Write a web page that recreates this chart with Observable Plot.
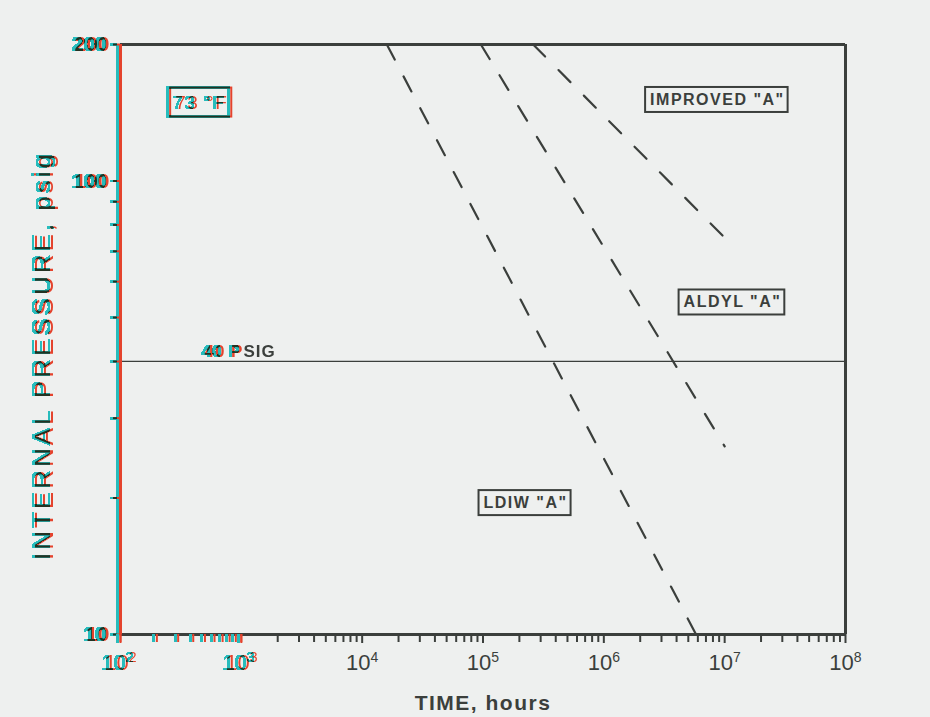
<!DOCTYPE html>
<html><head><meta charset="utf-8">
<script src="https://cdn.jsdelivr.net/npm/d3@7"></script>
<script src="https://cdn.jsdelivr.net/npm/@observablehq/plot@0.6"></script>
<style>
html,body{margin:0;padding:0;background:#eef0ef;}
#chart svg{display:block;}
</style></head><body><div id="chart"></div>
<script>
// ---- data ----
const seriesNames = ['LDIW "A"', 'ALDYL "A"', 'IMPROVED "A"'];
const ldiwTime = [1.6e4, 5.8e6];
const ldiwPressure = [200, 10];
const aldylTime = [9.6e4, 1e7];
const aldylPressure = [200, 26];
const improvedTime = [2.6e5, 1e7];
const improvedPressure = [200, 75];

const labelTime = [2.25e5, 1.16e7, 8.7e6];
const labelPressure = [19.5, 54, 151];

const tempLabel = "73 °F";
const tempTime = [470];
const tempPressure = [149];

const refPressure = [40];
const refLabel = "40 PSIG";
const refLabelTime = [495];

const xMajorTicks = [1e2, 1e3, 1e4, 1e5, 1e6, 1e7, 1e8];
const xMajorLabels = ["10²", "10³", "10⁴", "10⁵", "10⁶", "10⁷", "10⁸"];
const minorMultipliers = [2, 3, 4, 5, 6, 7, 8, 9];
const yTicks = [10, 20, 30, 40, 50, 60, 70, 80, 90, 100, 200];
const yTickLabels = [10, 100, 200];

const xTitle = "TIME, hours";
const yTitle = "INTERNAL PRESSURE, psig";

// ---- styles ----
const DARK = "#3b3f3c";
const RED = "#e4432d";
const CYAN = "#27bcbc";
const FONT = "'Liberation Sans', Arial, sans-serif";

const series = [
  {name: seriesNames[0], t: ldiwTime, p: ldiwPressure},
  {name: seriesNames[1], t: aldylTime, p: aldylPressure},
  {name: seriesNames[2], t: improvedTime, p: improvedPressure}
];
const lineData = series.flatMap(s => s.t.map((t, i) => ({name: s.name, t, p: s.p[i]})));
const labels = seriesNames.map((n, i) => ({name: n, t: labelTime[i], p: labelPressure[i]}));

const firstDecadeTicks = [1e2, ...minorMultipliers.map(m => m * 1e2), 1e3];
const otherMinor = [1e3, 1e4, 1e5, 1e6, 1e7].flatMap(d => minorMultipliers.map(m => m * d));
const fmtX = d => { const i = xMajorTicks.indexOf(d); return i >= 0 ? xMajorLabels[i] : ""; };

const chart = Plot.plot({
  width: 930,
  height: 717,
  marginLeft: 120,
  marginRight: 85,
  marginTop: 44,
  marginBottom: 83,
  style: {background: "#eef0ef", fontFamily: FONT},
  x: {type: "log", domain: [1e2, 1e8], label: null},
  y: {type: "log", domain: [10, 200], label: null},
  marks: [
    // frame (top, right, bottom)
    Plot.ruleY([200], {stroke: DARK, strokeWidth: 3}),
    Plot.ruleX([1e8], {stroke: DARK, strokeWidth: 3}),
    Plot.ruleY([10], {stroke: DARK, strokeWidth: 3}),
    // 40 psig reference
    Plot.ruleY(refPressure, {stroke: DARK, strokeWidth: 1.2}),
    // dashed lines
    Plot.line(lineData, {x: "t", y: "p", z: "name", stroke: DARK, strokeWidth: 2.2, strokeDasharray: "17,19"}),
    // boxed labels
    Plot.text(labels, {x: "t", y: "p", text: "name", fill: DARK, fontSize: 16, fontWeight: 600,
      textAnchor: "middle", lineAnchor: "middle", ariaDescription: "boxed"}),
    // x axis (dark part)
    Plot.axisX(otherMinor, {tickSize: 8, tickFormat: () => "", color: DARK, strokeWidth: 2, label: null}),
    Plot.axisX(xMajorTicks.slice(2), {tickSize: 9, tickPadding: 11, tickFormat: fmtX, color: DARK,
      fontSize: 22, strokeWidth: 2, label: null}),
    Plot.text([xTitle], {frameAnchor: "bottom", dy: 69, lineAnchor: "middle", fill: DARK,
      fontSize: 21, fontWeight: 600, ariaDescription: "xtitle"}),
    // red/cyan (aberrated) elements
    Plot.ruleX([1e2], {stroke: RED, strokeWidth: 3}),
    Plot.axisY(yTicks, {tickSize: 7, tickPadding: 4, tickFormat: d => yTickLabels.includes(d) ? String(d) : "",
      color: RED, fontSize: 21, fontWeight: "bold", strokeWidth: 2, label: null}),
    Plot.text([yTitle], {frameAnchor: "left", textAnchor: "middle", dx: -76, dy: 16, rotate: -90, fill: RED,
      fontSize: 26, fontWeight: 500, ariaDescription: "ytitle"}),
    Plot.axisX(firstDecadeTicks, {tickSize: 8, tickFormat: () => "", color: RED, strokeWidth: 2, label: null}),
    Plot.axisX(xMajorTicks.slice(0, 2), {tickSize: 9, tickPadding: 11, tickFormat: fmtX, color: RED,
      fontSize: 22, strokeWidth: 2, label: null}),
    Plot.text(refLabelTime.map((t, i) => ({t, p: refPressure[i]})), {x: "t", y: "p", text: () => refLabel,
      textAnchor: "start", lineAnchor: "bottom", dy: -4, fill: RED, fontSize: 17, fontWeight: 600,
      ariaDescription: "ref"}),
    Plot.text(tempTime.map((t, i) => ({t, p: tempPressure[i]})), {x: "t", y: "p", text: () => tempLabel,
      textAnchor: "middle", lineAnchor: "middle", fill: RED, fontSize: 19, ariaDescription: "boxed"})
  ]
});

document.getElementById("chart").appendChild(chart);
const svg = d3.select(chart);

// letter spacing for the old plotter look
svg.selectAll("g[aria-description='boxed'] text").style("letter-spacing", "1.5px");
svg.selectAll("g[aria-description='ref'] text").style("letter-spacing", "1px");
svg.selectAll("g[aria-description='xtitle'] text").style("letter-spacing", "1.5px");
svg.selectAll("g[aria-description='ytitle'] text").style("letter-spacing", "3px");

// "40 P" in red/cyan, "SIG" in dark ink
svg.selectAll("g[aria-description='ref'] text").each(function() {
  const s = this.textContent;
  const el = d3.select(this);
  el.text(null);
  el.append("tspan").text(s.slice(0, 4));
  el.append("tspan").attr("fill", DARK).text(s.slice(4));
});

// superscript exponents for x tick labels
const supMap = {"²": "2", "³": "3", "⁴": "4", "⁵": "5", "⁶": "6", "⁷": "7", "⁸": "8"};
svg.selectAll("text").each(function() {
  const s = this.textContent;
  const m = /^10([²³⁴⁵⁶⁷⁸])$/.exec(s);
  if (!m) return;
  const el = d3.select(this);
  el.text(null);
  el.append("tspan").text("10");
  el.append("tspan").attr("dy", "-0.6em").attr("font-size", "14px").text(supMap[m[1]]);
});

// boxes around boxed labels
svg.selectAll("g[aria-description='boxed']").each(function() {
  const g = this;
  const color = g.getAttribute("fill") || DARK;
  Array.from(g.querySelectorAll("text")).forEach(t => {
    const b = t.getBBox();
    const r = document.createElementNS("http://www.w3.org/2000/svg", "rect");
    r.setAttribute("x", b.x - 5);
    r.setAttribute("y", b.y - 4);
    r.setAttribute("width", b.width + 8);
    r.setAttribute("height", b.height + 8);
    r.setAttribute("fill", "none");
    r.setAttribute("stroke", color);
    r.setAttribute("stroke-width", 2);
    if (t.getAttribute("transform")) r.setAttribute("transform", t.getAttribute("transform"));
    g.insertBefore(r, t);
  });
});

// chromatic aberration filter: cyan copy of the red ink, shifted left, multiplied
const defs = svg.insert("defs", ":first-child");
const f = defs.append("filter").attr("id", "aberr").attr("filterUnits", "userSpaceOnUse")
  .attr("x", -2000).attr("y", -2000).attr("width", 5000).attr("height", 5000)
  .attr("color-interpolation-filters", "sRGB");
f.append("feColorMatrix").attr("in", "SourceGraphic").attr("type", "matrix")
  .attr("values", "0 0 0 0 0  0 0 0 0 0  0 0 0 0 0  1.6 -1.6 0 0 0").attr("result", "redInk");
f.append("feOffset").attr("in", "redInk").attr("dx", -3).attr("dy", 0).attr("result", "off");
f.append("feFlood").attr("flood-color", CYAN).attr("result", "cy");
f.append("feComposite").attr("in", "cy").attr("in2", "off").attr("operator", "in").attr("result", "cyanInk");
f.append("feBlend").attr("in", "SourceGraphic").attr("in2", "cyanInk").attr("mode", "multiply");

Array.from(chart.children).forEach(g => {
  if (g.tagName !== "g") return;
  if (g.getAttribute("stroke") !== RED && g.getAttribute("fill") !== RED) return;
  g.setAttribute("filter", "url(#aberr)");
});
</script>
</body></html>
